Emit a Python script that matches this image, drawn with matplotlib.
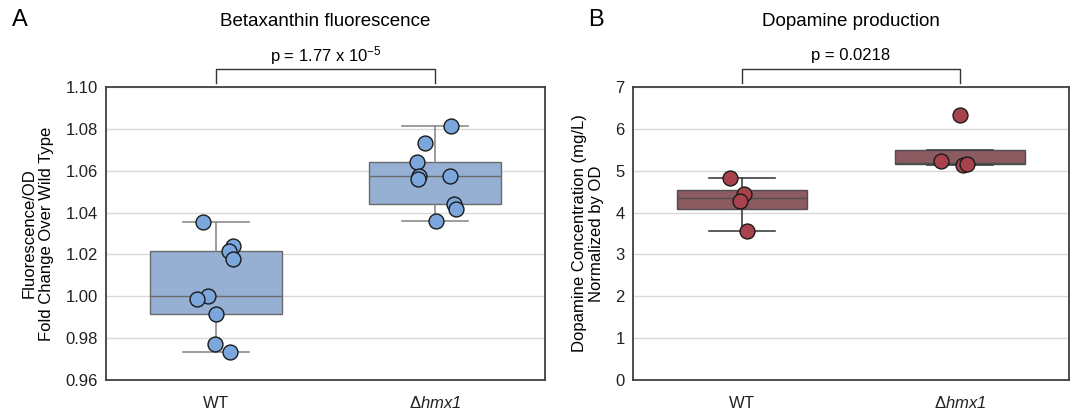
import numpy as np
import matplotlib
matplotlib.use('Agg')
import matplotlib.pyplot as plt

plt.rcParams['font.family'] = ['Liberation Sans', 'DejaVu Sans']
plt.rcParams['mathtext.fontset'] = 'custom'
plt.rcParams['mathtext.rm'] = 'Liberation Sans'
plt.rcParams['mathtext.it'] = 'Liberation Sans:italic'
plt.rcParams['mathtext.sf'] = 'Liberation Sans:italic'
plt.rcParams['mathtext.default'] = 'regular'

# ---- data ----
groups = [r'$\mathrm{WT}$', r'$\Delta\mathsf{hmx1}$']

# panel A: betaxanthin fluorescence (fold change over WT)
fluor_wt = [1.0354, 1.0239, 1.0215, 1.0177, 1.0000, 0.9986, 0.9914, 0.9770, 0.9736]
fluor_hmx1 = [1.0813, 1.0733, 1.0644, 1.0573, 1.0560, 1.0573, 1.0442, 1.0418, 1.0359]
fluor_jit_wt = [-0.058, 0.079, 0.061, 0.079, -0.035, -0.084, 0.003, -0.005, 0.064]
fluor_jit_hmx1 = [0.072, -0.047, -0.082, -0.073, -0.078, 0.065, 0.084, 0.093, 0.003]

# panel B: dopamine production (mg/L normalised by OD)
dopa_wt = [4.83, 4.45, 4.27, 3.55]
dopa_hmx1 = [6.33, 5.23, 5.14, 5.16]
dopa_jit_wt = [-0.057, 0.008, -0.008, 0.025]
dopa_jit_hmx1 = [0.0, -0.087, 0.016, 0.032]

p_fluor = r'p = 1.77 x 10$^{\mathrm{-5}}$'
p_dopa = 'p = 0.0218'


def draw_panel(ax, data, jitter, box_col, pt_col, line_col, med_col):
    ax.boxplot(data, positions=[0, 1], widths=0.6, capwidths=0.3,
               patch_artist=True, showfliers=False, zorder=2,
               boxprops=dict(facecolor=box_col, edgecolor=med_col, linewidth=1),
               medianprops=dict(color=med_col, linewidth=1),
               whiskerprops=dict(color=line_col, linewidth=1.2),
               capprops=dict(color=line_col, linewidth=1.2))
    for i, (vals, jit) in enumerate(zip(data, jitter)):
        xs = np.array(jit) + i
        ax.scatter(xs, vals, s=115, color=pt_col, edgecolor='#1a1a1a',
                   linewidth=1, zorder=3)
    ax.set_xlim(-0.5, 1.5)
    ax.set_xticks([0, 1])
    ax.set_xticklabels(groups)
    ax.tick_params(length=0, labelsize=12, colors='#222222')
    ax.tick_params(axis='x', pad=11)
    ax.tick_params(axis='y', pad=6)
    ax.yaxis.grid(True, color='#d9d9d9', linewidth=1)
    ax.set_axisbelow(True)
    for s in ax.spines.values():
        s.set_color('#404040')
        s.set_linewidth(1.3)


def header(ax, title, ptext):
    tr = ax.get_xaxis_transform()
    ax.plot([0, 0, 1, 1], [1.014, 1.061, 1.061, 1.014], color='#333333',
            linewidth=1, transform=tr, clip_on=False)
    ax.text(0.5, 1.108, ptext, transform=tr, ha='center', va='center', fontsize=12)
    ax.text(0.5, 1.222, title, transform=tr, ha='center', va='center', fontsize=13.5)


fig = plt.figure(figsize=(10.73, 4.12), dpi=100)
ax1 = fig.add_axes([106 / 1073, 1 - 380 / 412, 439 / 1073, 293 / 412])
ax2 = fig.add_axes([633 / 1073, 1 - 380 / 412, 436 / 1073, 293 / 412])

draw_panel(ax1, [fluor_wt, fluor_hmx1], [fluor_jit_wt, fluor_jit_hmx1],
           '#95b0d3', '#7ba7dd', '#8c8c8c', '#6a6a6a')
ax1.set_ylim(0.96, 1.10)
yt = np.arange(0.96, 1.1001, 0.02)
ax1.set_yticks(yt)
ax1.set_yticklabels([f'{v:.2f}' for v in yt])
ax1.set_ylabel('Fluorescence/OD\nFold Change Over Wild Type', fontsize=12, labelpad=8)
header(ax1, 'Betaxanthin fluorescence', p_fluor)

draw_panel(ax2, [dopa_wt, dopa_hmx1], [dopa_jit_wt, dopa_jit_hmx1],
           '#8c5b61', '#a8434d', '#404040', '#4e4e4e')
ax2.set_ylim(0, 7)
ax2.set_yticks(range(0, 8))
ax2.set_ylabel('Dopamine Concentration (mg/L)\nNormalized by OD', fontsize=12, labelpad=8)
header(ax2, 'Dopamine production', p_dopa)

fig.text(20 / 1073, 1 - 20 / 412, 'A', fontsize=17, ha='center', va='center')
fig.text(596 / 1073, 1 - 20 / 412, 'B', fontsize=17, ha='center', va='center')

fig.savefig('out.png', dpi=100)
